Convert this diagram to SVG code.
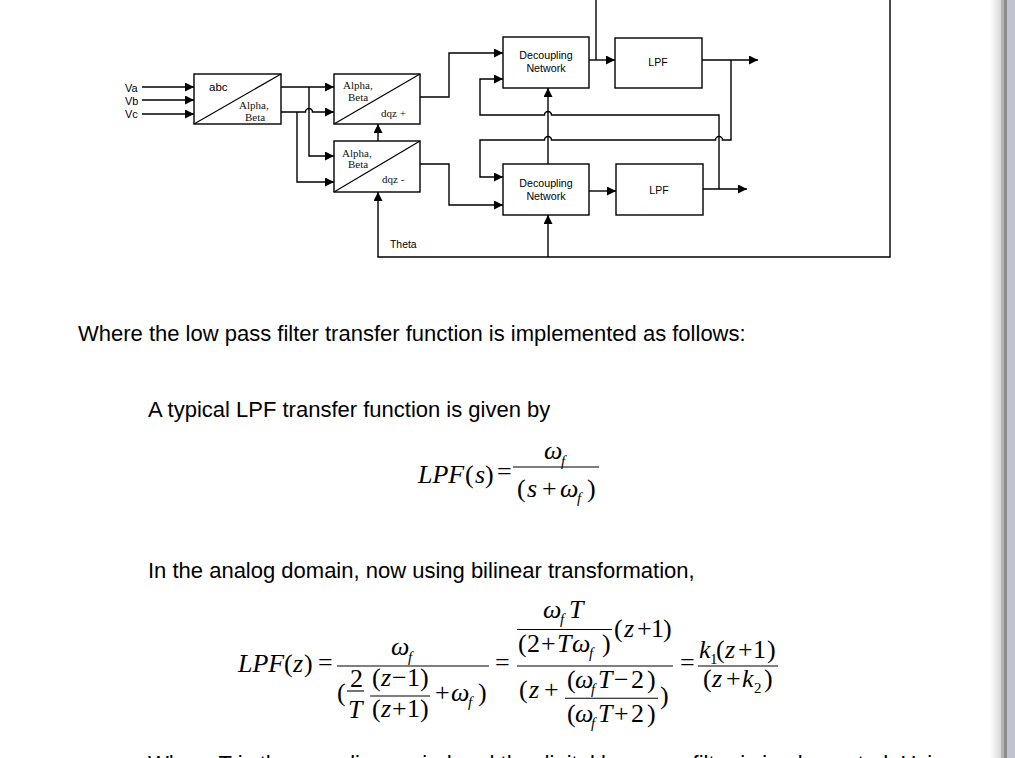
<svg xmlns="http://www.w3.org/2000/svg" width="1015" height="758" viewBox="0 0 1015 758">
<defs>
<style>
.ln{fill:none;stroke:#000;stroke-width:1.4}
.bx{fill:#fff;stroke:#000;stroke-width:1.4}
.dg{fill:none;stroke:#000;stroke-width:1.2}
.ss{font-family:"Liberation Sans",Arial,sans-serif;fill:#000}
.sf{font-family:"Liberation Serif","Times New Roman",serif;font-size:11px;fill:#111}
.body{font-family:"Liberation Sans",Arial,sans-serif;font-size:22px;fill:#000}
.m{font-family:"Liberation Serif","Times New Roman",serif;font-size:26px;fill:#000}
.i{font-style:italic}
.sub{font-size:15px;font-style:italic}
.sb{font-size:15px}
.fl{stroke:#000;stroke-width:1.1}
</style>
<marker id="ah" markerUnits="userSpaceOnUse" markerWidth="10" markerHeight="10" refX="9" refY="4.5" orient="auto">
<path d="M0,0 L9,4.5 L0,9 z" fill="#000"/>
</marker>
<linearGradient id="shd" x1="0" y1="0" x2="1" y2="0">
<stop offset="0" stop-color="#ffffff"/>
<stop offset="1" stop-color="#d8d8d8"/>
</linearGradient>
</defs>
<rect width="1015" height="758" fill="#fff"/>

<g id="connectors">
<path class="ln" marker-end="url(#ah)" d="M142,87 H194"/>
<path class="ln" marker-end="url(#ah)" d="M142,100 H194"/>
<path class="ln" marker-end="url(#ah)" d="M142,114 H194"/>
<path class="ln" marker-end="url(#ah)" d="M281,87 H334"/>
<path class="ln" marker-end="url(#ah)" d="M309,87 V156 H334"/>
<path class="ln" marker-end="url(#ah)" d="M281,112 H305.5 a3.5,3.5 0 0 1 7,0 H334"/>
<path class="ln" marker-end="url(#ah)" d="M297,112 V182 H334"/>
<path class="ln" marker-end="url(#ah)" d="M378,141 V124"/>
<path class="ln" marker-end="url(#ah)" d="M596,60 V-5 H890 V257 H378 V192"/>
<path class="ln" marker-end="url(#ah)" d="M548,257 V215"/>
<path class="ln" marker-end="url(#ah)" d="M420,97 H449 V53 H503"/>
<path class="ln" marker-end="url(#ah)" d="M420,164 H449 V205 H503"/>
<path class="ln" marker-end="url(#ah)" d="M589,60 H615"/>
<path class="ln" marker-end="url(#ah)" d="M702,60 H758"/>
<path class="ln" marker-end="url(#ah)" d="M731,60 V140 H722.5 a3.5,3.5 0 0 0 -7,0 H551.5 a3.5,3.5 0 0 0 -7,0 H480 V177 H503"/>
<path class="ln" marker-end="url(#ah)" d="M703,189 H747"/>
<path class="ln" marker-end="url(#ah)" d="M719,189 V115 H551.5 a3.5,3.5 0 0 0 -7,0 H480 V79 H503"/>
<path class="ln" marker-end="url(#ah)" d="M589,191 H616"/>
<path class="ln" marker-end="url(#ah)" d="M548,164 V88"/>
</g>

<g id="inputs">
<text class="ss" font-size="10.9" x="125" y="91.5">Va</text>
<text class="ss" font-size="10.9" x="125" y="105">Vb</text>
<text class="ss" font-size="10.9" x="125" y="118.3">Vc</text>
</g>

<g id="abc">
<rect class="bx" x="194" y="74" width="87" height="50"/>
<path class="dg" d="M194,124 L281,74"/>
<text class="ss" font-size="11.5" x="209" y="91">abc</text>
<text class="sf" x="239" y="108.5">Alpha,</text>
<text class="sf" x="245" y="121">Beta</text>
</g>

<g id="dqz-plus">
<rect class="bx" x="334" y="74" width="86" height="50"/>
<path class="dg" d="M334,124 L420,74"/>
<text class="sf" x="343" y="89">Alpha,</text>
<text class="sf" x="348" y="100.5">Beta</text>
<text class="sf" x="381" y="116.5">dqz +</text>
</g>

<g id="dqz-minus">
<rect class="bx" x="334" y="141" width="86" height="51"/>
<path class="dg" d="M334,192 L420,141"/>
<text class="sf" x="342" y="156.5">Alpha,</text>
<text class="sf" x="348" y="168.3">Beta</text>
<text class="sf" x="382" y="182.5">dqz -</text>
</g>

<g id="theta">
<text class="ss" font-size="10.4" x="390" y="248">Theta</text>
</g>

<g id="decoupling-upper">
<rect class="bx" x="503" y="37" width="86" height="51"/>
<text class="ss" font-size="10.7" x="546" y="59" text-anchor="middle">Decoupling</text>
<text class="ss" font-size="10.7" x="546" y="72.3" text-anchor="middle">Network</text>
</g>

<g id="lpf-upper">
<rect class="bx" x="615" y="38" width="87" height="50"/>
<text class="ss" font-size="10.5" x="658" y="66" text-anchor="middle">LPF</text>
</g>

<g id="decoupling-lower">
<rect class="bx" x="503" y="164" width="86" height="51"/>
<text class="ss" font-size="10.7" x="546" y="187.3" text-anchor="middle">Decoupling</text>
<text class="ss" font-size="10.7" x="546" y="200" text-anchor="middle">Network</text>
</g>

<g id="lpf-lower">
<rect class="bx" x="616" y="164" width="87" height="51"/>
<text class="ss" font-size="10.5" x="659" y="194" text-anchor="middle">LPF</text>
</g>

<g id="body-text">
<text class="body" x="78" y="341">Where the low pass filter transfer function is implemented as follows:</text>
<text class="body" x="148" y="417">A typical LPF transfer function is given by</text>
<text class="body" x="148" y="578">In the analog domain, now using bilinear transformation,</text>
<text class="body" x="148" y="771">Where T is the sampling period and the digital low pass filter is implemented. Using</text>
</g>

<g id="equation-1">
<text class="m" y="483"><tspan class="i" x="418">LPF</tspan><tspan x="465">(</tspan><tspan class="i" x="475">s</tspan><tspan x="485">)</tspan></text>
<text class="m" x="497" y="480">=</text>
<line class="fl" x1="513" y1="467" x2="599" y2="467"/>
<text class="m i" x="544" y="459">ω</text>
<text class="m sub" x="561" y="466">f</text>
<text class="m" y="497"><tspan x="517">(</tspan><tspan class="i" x="527">s</tspan><tspan x="542">+</tspan><tspan class="i" x="560">ω</tspan></text>
<text class="m sub" x="577" y="503">f</text>
<text class="m" x="587" y="497">)</text>
</g>

<g id="equation-2">
<text class="m" y="672"><tspan class="i" x="238">LPF</tspan><tspan x="284">(</tspan><tspan class="i" x="293">z</tspan><tspan x="304">)</tspan></text>
<text class="m" x="318" y="671">=</text>
<line class="fl" x1="337" y1="666" x2="489" y2="666"/>
<text class="m i" x="391" y="655">ω</text>
<text class="m sub" x="408" y="662">f</text>
<text class="m" x="337" y="701">(</text>
<text class="m" x="350" y="687">2</text>
<line class="fl" x1="347" y1="691" x2="364" y2="691"/>
<text class="m i" x="348" y="718">T</text>
<text class="m" y="686"><tspan x="372">(</tspan><tspan class="i" x="381">z</tspan><tspan x="392">−</tspan><tspan x="407">1</tspan><tspan x="420">)</tspan></text>
<line class="fl" x1="370" y1="696" x2="430" y2="696"/>
<text class="m" y="717"><tspan x="372">(</tspan><tspan class="i" x="381">z</tspan><tspan x="392">+</tspan><tspan x="407">1</tspan><tspan x="420">)</tspan></text>
<text class="m" y="701"><tspan x="435">+</tspan><tspan class="i" x="451">ω</tspan></text>
<text class="m sub" x="468" y="707">f</text>
<text class="m" x="478" y="701">)</text>
<text class="m" x="495" y="671">=</text>

<text class="m i" x="543" y="618">ω</text>
<text class="m sub" x="560" y="624">f</text>
<text class="m i" x="569" y="618">T</text>
<line class="fl" x1="517" y1="629.5" x2="612" y2="629.5"/>
<text class="m" y="651.5"><tspan x="518">(</tspan><tspan x="527">2</tspan><tspan x="541">+</tspan><tspan class="i" x="557">T</tspan><tspan class="i" x="572">ω</tspan></text>
<text class="m sub" x="589" y="658">f</text>
<text class="m" x="602" y="651.5">)</text>
<text class="m" y="637"><tspan x="614">(</tspan><tspan class="i" x="624">z</tspan><tspan x="637">+</tspan><tspan x="651">1</tspan><tspan x="663">)</tspan></text>
<line class="fl" x1="517" y1="666" x2="673" y2="666"/>
<text class="m" y="698"><tspan x="519">(</tspan><tspan class="i" x="529">z</tspan><tspan x="544">+</tspan></text>
<text class="m" y="688"><tspan x="567">(</tspan><tspan class="i" x="575">ω</tspan></text>
<text class="m sub" x="591" y="694">f</text>
<text class="m" y="688"><tspan class="i" x="598">T</tspan><tspan x="614">−</tspan><tspan x="631">2</tspan><tspan x="647">)</tspan></text>
<line class="fl" x1="565" y1="698.3" x2="658" y2="698.3"/>
<text class="m" y="722"><tspan x="567">(</tspan><tspan class="i" x="575">ω</tspan></text>
<text class="m sub" x="591" y="728">f</text>
<text class="m" y="722"><tspan class="i" x="598">T</tspan><tspan x="614">+</tspan><tspan x="631">2</tspan><tspan x="647">)</tspan></text>
<text class="m" x="660" y="704">)</text>
<text class="m" x="680" y="671">=</text>
<text class="m i" x="699" y="658">k</text>
<text class="m sb" x="710" y="664">1</text>
<text class="m" y="658"><tspan x="716">(</tspan><tspan class="i" x="725">z</tspan><tspan x="738">+</tspan><tspan x="753">1</tspan><tspan x="767">)</tspan></text>
<line class="fl" x1="698" y1="666" x2="778" y2="666"/>
<text class="m" y="687"><tspan x="703">(</tspan><tspan class="i" x="712">z</tspan><tspan x="726">+</tspan><tspan class="i" x="742">k</tspan></text>
<text class="m sb" x="754" y="693">2</text>
<text class="m" x="764" y="687">)</text>
</g>

<g id="page-edge">
<rect x="990" y="0" width="11" height="758" fill="url(#shd)"/>
<rect x="1001" y="0" width="2.5" height="758" fill="#b4b4b4"/>
<rect x="1003.5" y="0" width="3.5" height="758" fill="#8c8c8c"/>
<rect x="1007" y="0" width="8" height="758" fill="#c1c4cf"/>
</g>
</svg>
